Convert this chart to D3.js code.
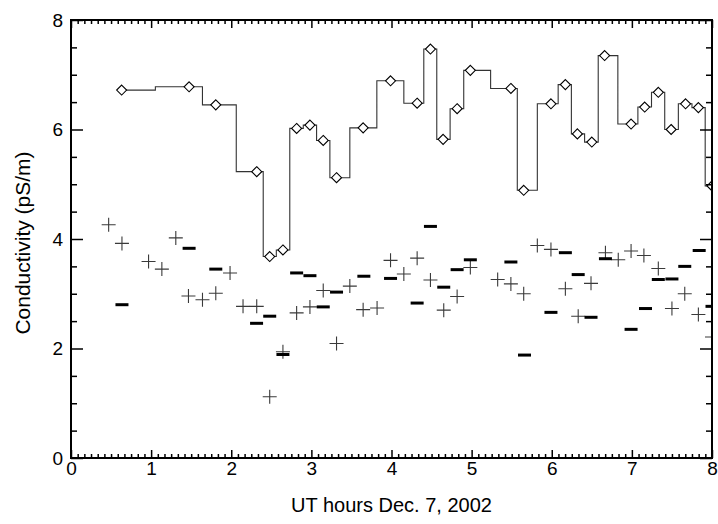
<!DOCTYPE html>
<html>
<head>
<meta charset="utf-8">
<script src="https://cdn.jsdelivr.net/npm/d3@7/dist/d3.min.js"></script>
<style>
  body { margin: 0; background: #fff; }
  text { font-family: "Liberation Sans", Arial, sans-serif; fill: #000; }
</style>
</head>
<body>
<svg id="chart" width="718" height="524"></svg>
<script>
// Diamond series (drawn with a step line), UT hours and conductivity
const diamondTimes = [0.632, 1.474, 1.807, 2.318, 2.480, 2.645, 2.816, 2.982, 3.148, 3.314,
    3.646, 3.988, 4.320, 4.486, 4.644, 4.819, 4.984, 5.490, 5.650, 5.990,
    6.170, 6.320, 6.500, 6.660, 6.990, 7.160, 7.330, 7.490, 7.670, 7.830, 8.000];
const diamondValues = [6.72, 6.78, 6.45, 5.23, 3.68, 3.80, 6.02, 6.08, 5.80, 5.12,
    6.03, 6.89, 6.48, 7.47, 5.82, 6.38, 7.08, 6.75, 4.89, 6.47,
    6.82, 5.92, 5.77, 7.35, 6.10, 6.41, 6.68, 6.00, 6.47, 6.40, 4.97];

// Plus series
const plusTimes = [0.470, 0.636, 0.968, 1.134, 1.308, 1.466, 1.641, 1.807, 1.985, 2.147,
    2.318, 2.480, 2.645, 2.816, 2.982, 3.148, 3.314, 3.480, 3.646, 3.820,
    3.988, 4.154, 4.320, 4.486, 4.652, 4.819, 4.984, 5.325, 5.490, 5.650,
    5.820, 5.990, 6.170, 6.330, 6.490, 6.670, 6.830, 6.990, 7.150, 7.330,
    7.500, 7.660, 7.830, 8.000];
const plusValues = [4.26, 3.92, 3.59, 3.45, 4.02, 2.96, 2.89, 3.01, 3.38, 2.77,
    2.77, 1.12, 1.94, 2.65, 2.76, 3.06, 2.09, 3.14, 2.71, 2.74,
    3.61, 3.36, 3.65, 3.25, 2.70, 2.95, 3.48, 3.26, 3.18, 3.00,
    3.88, 3.81, 3.09, 2.59, 3.19, 3.75, 3.62, 3.78, 3.70, 3.46,
    2.73, 3.00, 2.62, 2.21];

// Bold dash series
const dashTimes = [0.636, 1.474, 1.807, 2.316, 2.480, 2.645, 2.816, 2.982, 3.148, 3.314,
    3.655, 3.988, 4.320, 4.486, 4.652, 4.819, 4.984, 5.490, 5.660, 5.990,
    6.170, 6.330, 6.490, 6.670, 6.990, 7.170, 7.330, 7.500, 7.660, 7.840, 8.000];
const dashValues = [2.80, 3.83, 3.45, 2.46, 2.59, 1.89, 3.38, 3.33, 2.76, 3.03,
    3.32, 3.28, 2.83, 4.23, 3.12, 3.44, 3.62, 3.58, 1.88, 2.66,
    3.75, 3.35, 2.57, 3.64, 2.35, 2.73, 3.26, 3.27, 3.50, 3.79, 2.77];

// Axis ticks
const xMajorTicks = [0, 1, 2, 3, 4, 5, 6, 7, 8];
const yMajorTicks = [0, 2, 4, 6, 8];
const xLabel = "UT hours Dec. 7, 2002";
const yLabel = "Conductivity (pS/m)";

const margin = {top: 20, right: 6, bottom: 66, left: 71};
const W = 718, H = 524;
const width = W - margin.left - margin.right;
const height = H - margin.top - margin.bottom;

const svg = d3.select("#chart");
const g = svg.append("g").attr("transform", `translate(${margin.left},${margin.top})`);

const x = d3.scaleLinear().domain([0, 8]).range([0, width]);
const y = d3.scaleLinear().domain([0, 8]).range([height, 0]);

// clip so markers at the edge are cut by the frame
svg.append("defs").append("clipPath").attr("id", "plotClip")
    .append("rect").attr("width", width).attr("height", height);

const plot = g.append("g").attr("clip-path", "url(#plotClip)");

const diamonds = diamondTimes.map((t, i) => ({t: t, v: diamondValues[i]}));
const pluses = plusTimes.map((t, i) => ({t: t, v: plusValues[i]}));
const dashes = dashTimes.map((t, i) => ({t: t, v: dashValues[i]}));

// step line
plot.append("path")
    .datum(diamonds)
    .attr("d", d3.line().x(d => x(d.t)).y(d => y(d.v)).curve(d3.curveStep))
    .style("fill", "none")
    .style("stroke", "#333")
    .style("stroke-width", 1.1);

// plus markers
plot.selectAll(".plus")
    .data(pluses)
    .enter().append("path")
    .attr("class", "plus")
    .attr("transform", d => `translate(${x(d.t)},${y(d.v)})`)
    .attr("d", "M-7,0H7M0,-7V7")
    .style("fill", "none")
    .style("stroke", "#3a3a3a")
    .style("stroke-width", 1.1);

// bold dashes
plot.selectAll(".dash")
    .data(dashes)
    .enter().append("path")
    .attr("class", "dash")
    .attr("transform", d => `translate(${x(d.t)},${y(d.v)})`)
    .attr("d", "M-6.5,0H6.5")
    .style("stroke", "#000")
    .style("stroke-width", 3);

// diamonds
plot.selectAll(".diamond")
    .data(diamonds)
    .enter().append("path")
    .attr("class", "diamond")
    .attr("transform", d => `translate(${x(d.t)},${y(d.v)})`)
    .attr("d", "M0,-5L5,0L0,5L-5,0Z")
    .style("fill", "#fff")
    .style("stroke", "#000")
    .style("stroke-width", 1.1);

// ticks
const xMinor = d3.range(0, 8.0001, 1 / 12).filter(v => Math.abs(v - Math.round(v)) > 1e-6);
const yMinor = d3.range(0, 8.0001, 0.5).filter(v => v % 2 !== 0);

function styleAxis(sel) {
    sel.select(".domain").remove();
    sel.selectAll("line").style("stroke", "#000").style("stroke-width", 1.5);
    sel.selectAll("text")
        .style("font-family", '"Liberation Sans", Arial, sans-serif')
        .style("font-size", "19px");
}

// bottom
g.append("g").attr("transform", `translate(0,${height})`)
    .call(d3.axisBottom(x).tickValues(xMinor).tickSize(-4).tickFormat(""))
    .call(styleAxis);
g.append("g").attr("transform", `translate(0,${height})`)
    .call(d3.axisBottom(x).tickValues(xMajorTicks).tickSize(-8).tickPadding(4).tickFormat(d3.format("d")))
    .call(styleAxis);
// top
g.append("g")
    .call(d3.axisTop(x).tickValues(xMinor).tickSize(-4).tickFormat(""))
    .call(styleAxis);
g.append("g")
    .call(d3.axisTop(x).tickValues(xMajorTicks).tickSize(-8).tickFormat(""))
    .call(styleAxis);
// left
g.append("g")
    .call(d3.axisLeft(y).tickValues(yMinor).tickSize(-6).tickFormat(""))
    .call(styleAxis);
g.append("g")
    .call(d3.axisLeft(y).tickValues(yMajorTicks).tickSize(-12).tickPadding(8).tickFormat(d3.format("d")))
    .call(styleAxis);
// right
g.append("g").attr("transform", `translate(${width},0)`)
    .call(d3.axisRight(y).tickValues(yMinor).tickSize(-6).tickFormat(""))
    .call(styleAxis);
g.append("g").attr("transform", `translate(${width},0)`)
    .call(d3.axisRight(y).tickValues(yMajorTicks).tickSize(-12).tickFormat(""))
    .call(styleAxis);

// frame
g.append("rect")
    .attr("width", width)
    .attr("height", height)
    .style("fill", "none")
    .style("stroke", "#000")
    .style("stroke-width", 2);

// axis titles
svg.append("text")
    .attr("x", margin.left + width / 2)
    .attr("y", 512)
    .attr("text-anchor", "middle")
    .style("font-size", "20px")
    .text(xLabel);

svg.append("text")
    .attr("transform", `translate(30,${margin.top + height / 2 + 4}) rotate(-90)`)
    .attr("text-anchor", "middle")
    .style("font-size", "21px")
    .text(yLabel);
</script>
</body>
</html>
